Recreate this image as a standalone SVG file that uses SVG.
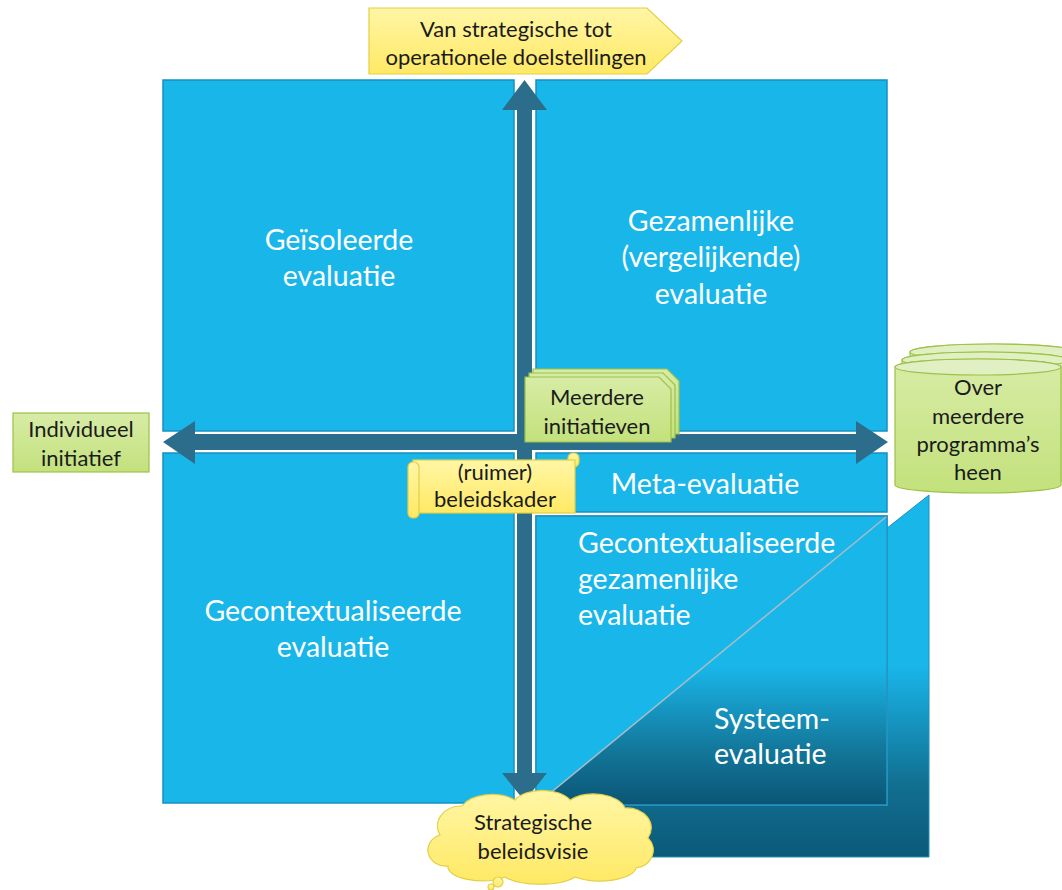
<svg xmlns="http://www.w3.org/2000/svg" width="1062" height="890" viewBox="0 0 1062 890">
<defs>
<linearGradient id="gOuter" x1="0" y1="0" x2="0" y2="1">
<stop offset="0" stop-color="#19b6ea"/>
<stop offset="0.47" stop-color="#19b6ea"/>
<stop offset="0.8" stop-color="#116f91"/>
<stop offset="1" stop-color="#0b5a79"/>
</linearGradient>
<linearGradient id="gInner" x1="0" y1="0" x2="0" y2="1">
<stop offset="0" stop-color="#19b6ea"/>
<stop offset="0.52" stop-color="#19b6ea"/>
<stop offset="0.8" stop-color="#13799c"/>
<stop offset="1" stop-color="#0b5575"/>
</linearGradient>
<linearGradient id="gYellow" x1="0" y1="0" x2="0" y2="1">
<stop offset="0" stop-color="#fff6a6"/>
<stop offset="1" stop-color="#ffe964"/>
</linearGradient>
<linearGradient id="gGreen" x1="0" y1="0" x2="0" y2="1">
<stop offset="0" stop-color="#d7eca6"/>
<stop offset="1" stop-color="#c3e17c"/>
</linearGradient>
</defs>
<style>
.q{fill:#19b6ea;stroke:#1690c0;stroke-width:1.5}
.qt{font-family:Lato,"Liberation Sans",sans-serif;font-size:28.5px;fill:#ffffff}
.lt{font-family:Lato,"Liberation Sans",sans-serif;font-size:22px;fill:#1b1b1b}
.arr{fill:#2c6d8c}
.yel{fill:url(#gYellow);stroke:#e3cf45;stroke-width:1.2}
.grn{fill:url(#gGreen);stroke:#9cc248;stroke-width:1.2}
.grnTop{fill:#e0f0c2;stroke:#9cc248;stroke-width:1.2}
</style>
<rect width="1062" height="890" fill="#ffffff"/>

<g id="systeem-evaluatie">
<polygon points="536,805 929,495 929,857 536,857" fill="url(#gOuter)" stroke="#2290b8" stroke-width="1"/>
</g>

<g id="geisoleerde-evaluatie">
<rect class="q" x="163" y="80" width="351" height="351"/>
<text class="qt" text-anchor="middle" x="339" y="250">Geïsoleerde</text>
<text class="qt" text-anchor="middle" x="339" y="286">evaluatie</text>
</g>

<g id="gezamenlijke-evaluatie">
<rect class="q" x="536" y="80" width="351" height="351"/>
<text class="qt" text-anchor="middle" x="711" y="231">Gezamenlijke</text>
<text class="qt" text-anchor="middle" x="711" y="267">(vergelijkende)</text>
<text class="qt" text-anchor="middle" x="711" y="304">evaluatie</text>
</g>

<g id="gecontextualiseerde-evaluatie">
<rect class="q" x="163" y="453" width="351" height="350"/>
<text class="qt" text-anchor="middle" x="333" y="621">Gecontextualiseerde</text>
<text class="qt" text-anchor="middle" x="333" y="657">evaluatie</text>
</g>

<g id="meta-evaluatie">
<rect class="q" x="536" y="453" width="351" height="59"/>
<text class="qt" text-anchor="middle" x="705" y="494">Meta-evaluatie</text>
</g>

<g id="gecontextualiseerde-gezamenlijke-evaluatie">
<rect class="q" x="536" y="516" width="351" height="289"/>
<polygon points="536,805 887,516 887,805" fill="url(#gInner)"/>
<rect x="536" y="516" width="351" height="289" fill="none" stroke="#2596c4" stroke-width="1.5"/>
<line x1="537" y1="804" x2="886" y2="517" stroke="#a9bcc6" stroke-width="1.5"/>
<text class="qt" x="578" y="553">Gecontextualiseerde</text>
<text class="qt" x="578" y="589">gezamenlijke</text>
<text class="qt" x="578" y="625">evaluatie</text>
<text class="qt" x="714" y="729">Systeem-</text>
<text class="qt" x="714" y="764">evaluatie</text>
</g>

<g id="connectors">
<rect class="arr" x="517" y="108" width="15" height="667"/>
<polygon class="arr" points="524.5,80 547,110 502,110"/>
<polygon class="arr" points="524.5,801 547,773 502,773"/>
<rect class="arr" x="193" y="434" width="665" height="16"/>
<polygon class="arr" points="163,442 195,421 195,464"/>
<polygon class="arr" points="888,442 856,421 856,464"/>
</g>

<g id="doelstellingen">
<polygon class="yel" points="369,8 647,8 682,41 647,74 369,74"/>
<text class="lt" text-anchor="middle" x="516" y="37">Van strategische tot</text>
<text class="lt" text-anchor="middle" x="516" y="65">operationele doelstellingen</text>
</g>

<g id="individueel-initiatief">
<rect class="grn" x="13" y="413" width="136" height="59"/>
<text class="lt" text-anchor="middle" x="81" y="437">Individueel</text>
<text class="lt" text-anchor="middle" x="81" y="466">initiatief</text>
</g>

<g id="meerdere-initiatieven">
<path class="grn" d="M533,369 H667 L679,381 V434 H533 Z"/>
<path class="grn" d="M529,373 H663 L675,385 V438 H529 Z"/>
<path class="grn" d="M525,377 H659 L671,389 V442 H525 Z"/>
<text class="lt" text-anchor="middle" x="597" y="405">Meerdere</text>
<text class="lt" text-anchor="middle" x="597" y="434">initiatieven</text>
</g>

<g id="beleidskader">
<rect class="yel" x="568" y="453" width="11" height="14" rx="5"/>
<rect class="yel" x="413" y="460" width="162" height="53"/>
<rect class="yel" x="408" y="462" width="11" height="56" rx="5"/>
<text class="lt" text-anchor="middle" x="495" y="480">(ruimer)</text>
<text class="lt" text-anchor="middle" x="495" y="507">beleidskader</text>
</g>

<g id="programmas">
<path class="grn" d="M910,352 A83,8 0 0 1 1076,352 V470 A83,8 0 0 1 910,470 Z"/>
<ellipse class="grnTop" cx="993" cy="352" rx="83" ry="8"/>
<path class="grn" d="M902,360 A83,8 0 0 1 1068,360 V478 A83,8 0 0 1 902,478 Z"/>
<ellipse class="grnTop" cx="985" cy="360" rx="83" ry="8"/>
<path class="grn" d="M895,367 A83,8 0 0 1 1061,367 V485 A83,8 0 0 1 895,485 Z"/>
<ellipse class="grnTop" cx="978" cy="367" rx="83" ry="8"/>
<text class="lt" text-anchor="middle" x="978" y="395">Over</text>
<text class="lt" text-anchor="middle" x="978" y="424">meerdere</text>
<text class="lt" text-anchor="middle" x="978" y="452">programma’s</text>
<text class="lt" text-anchor="middle" x="978" y="480">heen</text>
</g>

<g id="beleidsvisie">
<path class="yel" d="M440,835 A24,20 0 0 1 462,806 A32,18 0 0 1 515,800 A30,16 0 0 1 570,800 A32,18 0 0 1 625,808 A24,20 0 0 1 648,838 A20,18 0 0 1 636,868 A36,14 0 0 1 575,877 A40,14 0 0 1 505,877 A34,14 0 0 1 448,866 A18,16 0 0 1 440,835 Z"/>
<circle class="yel" cx="498" cy="882" r="5"/>
<circle class="yel" cx="491" cy="887" r="3"/>
<text class="lt" text-anchor="middle" x="533" y="830">Strategische</text>
<text class="lt" text-anchor="middle" x="533" y="859">beleidsvisie</text>
</g>
</svg>
